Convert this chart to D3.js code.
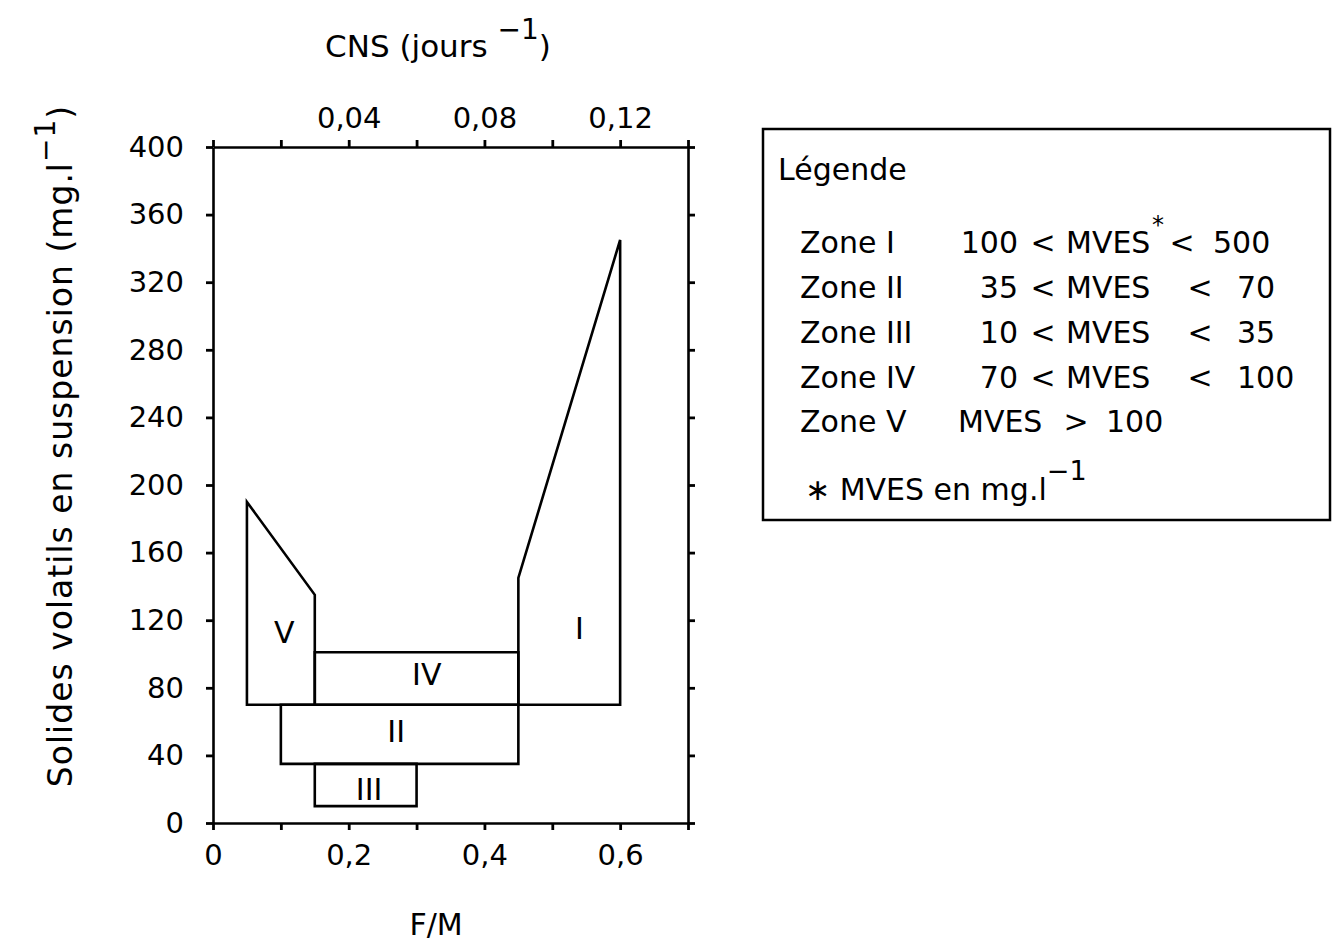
<!DOCTYPE html>
<html><head><meta charset="utf-8">
<script src="https://cdn.jsdelivr.net/npm/d3@7"></script>
<style>
html,body{margin:0;padding:0;background:#fff;}
text{font-family:"DejaVu Sans",sans-serif;fill:#000;}
</style></head>
<body>
<svg id="c" width="1338" height="945"></svg>
<script>
// ---- data ----
const xTickValues = [0,0.1,0.2,0.3,0.4,0.5,0.6,0.7];
const xLabelValues = [0,0.2,0.4,0.6];
const xLabels = ["0","0,2","0,4","0,6"];
const topTickValues = [0,0.02,0.04,0.06,0.08,0.1,0.12,0.14];
const topLabelValues = [0.04,0.08,0.12];
const topLabels = ["0,04","0,08","0,12"];
const yTickValues = [0,40,80,120,160,200,240,280,320,360,400];
const yLabels = ["0","40","80","120","160","200","240","280","320","360","400"];

// zone outlines (F/M, MVES)
const zoneI   = [[0.45,70],[0.45,145],[0.6,345],[0.6,70]];
const zoneII  = [[0.1,35],[0.1,70],[0.45,70],[0.45,35]];
const zoneIII = [[0.15,10],[0.15,35],[0.3,35],[0.3,10]];
const zoneIV  = [[0.15,70],[0.15,101],[0.45,101],[0.45,70]];
const zoneV   = [[0.05,70],[0.05,190],[0.15,135],[0.15,70]];
const zoneNames = ["I","II","III","IV","V"];
const zoneLabelX = [0.54,0.27,0.23,0.315,0.105];
const zoneLabelY = [115,54,20,88,113];

const zoneLow  = [100,35,10,70,100];
const zoneHigh = [500,70,35,100,null];

// ---- layout ----
const svg = d3.select("#c");
const L=213, R=688, T=147, B=823;
const x = d3.scaleLinear().domain([0,0.7]).range([L,R]);
const xTop = d3.scaleLinear().domain([0,0.14]).range([L,R]);
const y = d3.scaleLinear().domain([0,400]).range([B,T]);

const fmt = (vals, labs) => d => { const i = vals.findIndex(v=>Math.abs(v-d)<1e-9); return i<0?"":labs[i]; };

function styleAxis(g){
  g.select(".domain").attr("stroke","#000").attr("stroke-width",2.6);
  g.selectAll(".tick line").attr("stroke","#000").attr("stroke-width",2.8);
  g.selectAll("text").attr("font-family","DejaVu Sans").attr("font-size",29).attr("fill","#000");
}

svg.append("g").attr("transform",`translate(0,${B})`)
  .call(d3.axisBottom(x).tickValues(xTickValues).tickSize(7).tickSizeOuter(0).tickPadding(14).tickFormat(fmt(xLabelValues,xLabels)))
  .call(styleAxis);
svg.append("g").attr("transform",`translate(0,${T})`)
  .call(d3.axisTop(xTop).tickValues(topTickValues).tickSize(7).tickSizeOuter(0).tickPadding(12).tickFormat(fmt(topLabelValues,topLabels)))
  .call(styleAxis);
svg.append("g").attr("transform",`translate(${L},0)`)
  .call(d3.axisLeft(y).tickValues(yTickValues).tickSize(7).tickSizeOuter(0).tickPadding(22).tickFormat((d,i)=>yLabels[i]))
  .call(styleAxis);
svg.append("g").attr("transform",`translate(${R},0)`)
  .call(d3.axisRight(y).tickValues(yTickValues).tickSize(7).tickSizeOuter(0).tickFormat(""))
  .call(styleAxis);

// zones
const line = d3.line().x(d=>x(d[0])).y(d=>y(d[1]));
[zoneI,zoneII,zoneIII,zoneIV,zoneV].forEach(z=>{
  svg.append("path").attr("d",line(z)+"Z").attr("fill","none").attr("stroke","#000").attr("stroke-width",2.6).attr("stroke-linejoin","miter");
});
zoneNames.forEach((n,i)=>{
  svg.append("text").attr("x",x(zoneLabelX[i])).attr("y",y(zoneLabelY[i])).attr("text-anchor","middle")
    .attr("dominant-baseline","central").attr("font-size",30).text(n);
});

// axis titles
const tt = svg.append("text").attr("x",438).attr("y",57).attr("text-anchor","middle").attr("font-size",31);
tt.append("tspan").text("CNS (jours ");
tt.append("tspan").attr("dy",-18).attr("font-size",28).text("−1");
tt.append("tspan").attr("dy",18).text(")");

svg.append("text").attr("x",436).attr("y",935).attr("text-anchor","middle").attr("font-size",30).text("F/M");

const yt = svg.append("text").attr("transform","translate(72,446) rotate(-90)").attr("text-anchor","middle")
  .attr("font-size",33).attr("letter-spacing",1);
yt.append("tspan").text("Solides volatils en suspension (mg.l");
yt.append("tspan").attr("dy",-17).attr("font-size",28).text("−1");
yt.append("tspan").attr("dy",17).text(")");

// legend
const lg = svg.append("g");
lg.append("rect").attr("x",763).attr("y",129).attr("width",567).attr("height",391).attr("fill","none").attr("stroke","#000").attr("stroke-width",2.5);
lg.append("text").attr("x",778).attr("y",180).attr("font-size",30).text("Légende");
const rowY = [253,298,343,388,432];
zoneNames.forEach((n,i)=>{
  const ty = rowY[i];
  lg.append("text").attr("x",800).attr("y",ty).attr("font-size",30).text("Zone "+n);
  if(zoneHigh[i]!==null){
    const first = i===0;
    lg.append("text").attr("x",1018).attr("y",ty).attr("text-anchor","end").attr("font-size",30).text(zoneLow[i]);
    lg.append("text").attr("x",1043).attr("y",ty).attr("text-anchor","middle").attr("font-size",30).text("<");
    lg.append("text").attr("x",1066).attr("y",ty).attr("font-size",30).text("MVES");
    if(first) lg.append("text").attr("x",1152).attr("y",ty-20).attr("font-size",24).text("*");
    lg.append("text").attr("x",first?1182:1200).attr("y",ty).attr("text-anchor","middle").attr("font-size",30).text("<");
    lg.append("text").attr("x",first?1213:1237).attr("y",ty).attr("font-size",30).text(zoneHigh[i]);
  } else {
    lg.append("text").attr("x",958).attr("y",ty).attr("font-size",30).text("MVES");
    lg.append("text").attr("x",1076).attr("y",ty).attr("text-anchor","middle").attr("font-size",30).text(">");
    lg.append("text").attr("x",1106).attr("y",ty).attr("font-size",30).text(zoneLow[i]);
  }
});
const fn = lg.append("text").attr("x",805).attr("y",500).attr("font-size",30);
fn.append("tspan").text("∗ MVES en mg.l");
fn.append("tspan").attr("dy",-20).attr("font-size",27).text("−1");
</script>
</body></html>
